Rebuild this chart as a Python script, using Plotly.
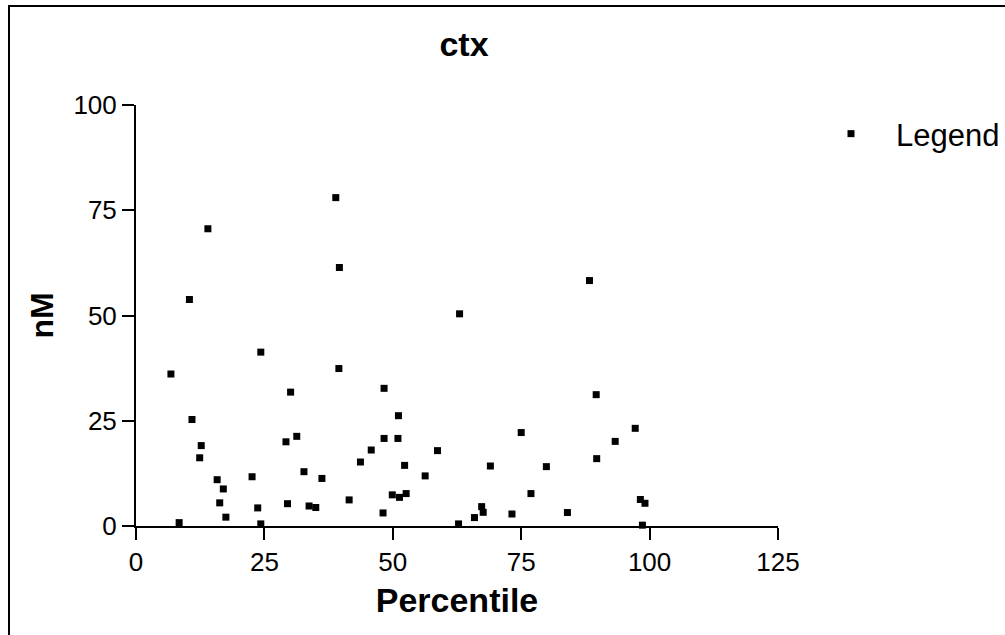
import plotly.graph_objects as go

percentile = [6.8, 8.4, 10.4, 10.9, 12.4, 12.7, 14.0, 15.8, 16.3, 17.0,
              17.5, 22.6, 23.7, 24.3, 24.3, 29.2, 29.5, 30.1, 31.3, 32.7,
              33.7, 35.0, 36.2, 38.9, 39.5, 39.6, 41.5, 43.7, 45.8, 48.1,
              48.3, 48.3, 49.9, 51.0, 51.1, 51.3, 52.3, 52.6, 56.3, 58.7,
              62.8, 63.0, 65.9, 67.3, 67.6, 69.0, 73.2, 75.0, 76.9, 79.9,
              84.0, 88.3, 89.6, 89.7, 93.3, 97.2, 98.2, 98.6, 99.1]
nM = [36.1, 0.8, 53.8, 25.3, 16.2, 19.1, 70.6, 11.0, 5.5, 8.8,
      2.1, 11.7, 4.3, 41.3, 0.5, 20.0, 5.3, 31.8, 21.3, 12.9,
      4.75, 4.4, 11.3, 78.0, 37.4, 61.4, 6.2, 15.2, 18.05, 3.1,
      32.7, 20.8, 7.4, 20.8, 26.2, 6.8, 14.4, 7.7, 11.9, 17.9,
      0.5, 50.4, 2.0, 4.6, 3.25, 14.25, 2.85, 22.2, 7.7, 14.1,
      3.2, 58.3, 31.2, 16.0, 20.1, 23.2, 6.3, 0.2, 5.4]

x_ticks = [0, 25, 50, 75, 100, 125]
y_ticks = [0, 25, 50, 75, 100]

FONT = "Liberation Sans, Arial, sans-serif"

fig = go.Figure()
fig.add_trace(go.Scatter(
    x=percentile, y=nM, mode="markers", name="Legend",
    marker=dict(symbol="square", size=7, color="black"),
    cliponaxis=False,
))

W, H = 1005, 635
L, R, T, B = 136, 778, 105, 526
px2x = lambda px: (px - L) / (R - L)
py2y = lambda py: (B - py) / (B - T)

fig.update_layout(
    width=W, height=H,
    margin=dict(l=L, r=W - R, t=T, b=H - B, autoexpand=False),
    paper_bgcolor="white", plot_bgcolor="white",
    font=dict(family=FONT, color="black", size=26),
    title=dict(text="<b>ctx</b>", x=464 / W, xref="container",
               y=1 - 44 / H, yref="container", xanchor="center", yanchor="middle",
               font=dict(size=34, family=FONT, color="black")),
    showlegend=True,
    legend=dict(x=px2x(806), y=py2y(134), xanchor="left", yanchor="middle",
                font=dict(size=31, family=FONT), bgcolor="rgba(0,0,0,0)",
                itemwidth=80, borderwidth=0),
)
fig.update_xaxes(
    range=[0, 125], tickvals=x_ticks, ticktext=[str(v) for v in x_ticks],
    showline=True, linecolor="black", linewidth=2, showgrid=False, zeroline=False,
    ticks="outside", ticklen=12, tickwidth=2, tickcolor="black",
    tickfont=dict(size=26, family=FONT),
    title=dict(text="<b>Percentile</b>", font=dict(size=34, family=FONT), standoff=12),
)
fig.update_yaxes(
    range=[0, 100], tickvals=y_ticks, ticktext=[str(v) for v in y_ticks],
    showline=True, linecolor="black", linewidth=2, showgrid=False, zeroline=False,
    ticks="outside", ticklen=12, tickwidth=2, tickcolor="black",
    tickfont=dict(size=26, family=FONT),
    title=dict(text="<b>nM</b>", font=dict(size=32, family=FONT), standoff=10),
)

# outer frame
fig.add_shape(type="rect", xref="paper", yref="paper",
              x0=px2x(9), x1=px2x(1012), y0=py2y(642), y1=py2y(6),
              line=dict(color="black", width=2), fillcolor="rgba(0,0,0,0)", layer="below")

fig.write_html("out.html")
